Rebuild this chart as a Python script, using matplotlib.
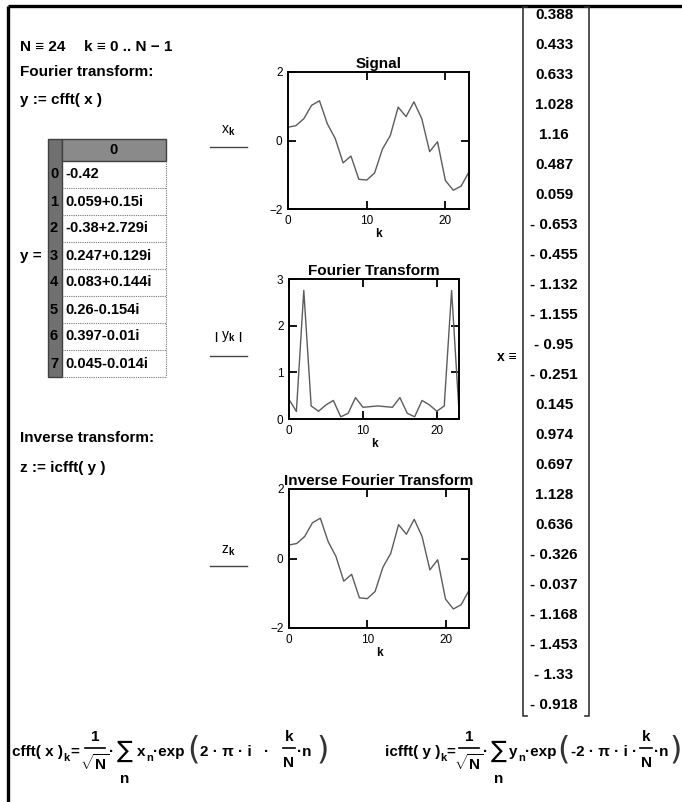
import numpy as np
import matplotlib
matplotlib.use('Agg')
from matplotlib import pyplot as plt
from matplotlib.patches import Rectangle

# worksheet data
N = 24
k = np.arange(N)
x_vals = [0.388, 0.433, 0.633, 1.028, 1.16, 0.487, 0.059, -0.653, -0.455, -1.132,
          -1.155, -0.95, -0.251, 0.145, 0.974, 0.697, 1.128, 0.636, -0.326, -0.037,
          -1.168, -1.453, -1.33, -0.918]
# first 8 entries of y = cfft(x), as shown in the result table
y_rows = ['0', '1', '2', '3', '4', '5', '6', '7']
y_cells = ['-0.42', '0.059+0.15i', '-0.38+2.729i', '0.247+0.129i',
           '0.083+0.144i', '0.26-0.154i', '0.397-0.01i', '0.045-0.014i']
# |y_k|
y_abs = [0.420, 0.161, 2.755, 0.279, 0.166, 0.302, 0.397, 0.047, 0.122, 0.459,
         0.251, 0.265, 0.280, 0.265, 0.251, 0.459, 0.122, 0.047, 0.397, 0.302,
         0.166, 0.279, 2.755, 0.161]
# z = icfft(y)
z_vals = [0.388, 0.433, 0.633, 1.028, 1.16, 0.487, 0.059, -0.653, -0.455, -1.132,
          -1.155, -0.95, -0.251, 0.145, 0.974, 0.697, 1.128, 0.636, -0.326, -0.037,
          -1.168, -1.453, -1.33, -0.918]

W, H = 682, 802
FS = 11
plt.rcParams['font.family'] = ['Liberation Sans', 'DejaVu Sans']
plt.rcParams['mathtext.fontset'] = 'custom'
plt.rcParams['mathtext.rm'] = 'Liberation Sans:bold'
plt.rcParams['mathtext.it'] = 'Liberation Sans:bold'
plt.rcParams['mathtext.bf'] = 'Liberation Sans:bold'
plt.rcParams['mathtext.sf'] = 'Liberation Sans'

fig = plt.figure(figsize=(W/100, H/100), dpi=100)
fig.patch.set_facecolor('white')

# background axes in pixel units (y down)
bg = fig.add_axes([0, 0, 1, 1])
bg.set_xlim(0, W)
bg.set_ylim(H, 0)
bg.axis('off')

# page border (top and left)
bg.plot([8, W], [6, 6], color='black', lw=2.4, solid_capstyle='butt')
bg.plot([8, 8], [6, H], color='black', lw=2.4, solid_capstyle='butt')

def txt(x, y, s, size=FS, weight='bold', **kw):
    kw.setdefault('va', 'center')
    bg.text(x, y, s, fontsize=size, fontweight=weight, **kw)

txt(20, 47, 'N \u2261 24')
txt(84, 47, 'k \u2261 0 .. N \u2212 1')
txt(20, 72, 'Fourier transform:')
txt(20, 100, 'y := cfft( x )')
txt(20, 438, 'Inverse transform:')
txt(20, 468, 'z := icfft( y )')

# result table for y
t_left, t_strip, t_right = 48, 62, 166
t_top, t_head = 139, 161
row_h = 27
t_bot = t_head + row_h * len(y_cells)
bg.add_patch(Rectangle((t_left, t_top), t_strip - t_left, t_bot - t_top,
                       facecolor='#707070', edgecolor='#404040', lw=1))
bg.add_patch(Rectangle((t_strip, t_top), t_right - t_strip, t_head - t_top,
                       facecolor='#8a8a8a', edgecolor='#404040', lw=1))
bg.plot([t_right, t_right], [t_head, t_bot], color='#777777', lw=0.8, ls=(0, (1, 1)))
txt((t_strip + t_right) / 2, (t_top + t_head) / 2, '0', size=10.5, ha='center')
for i, (r, c) in enumerate(zip(y_rows, y_cells)):
    yc = t_head + row_h * (i + 0.5)
    yb = t_head + row_h * (i + 1)
    bg.plot([t_strip, t_right], [yb, yb], color='#777777', lw=0.8, ls=(0, (1, 1)))
    txt(t_left + 2, yc, r, size=10.5)
    txt(t_strip + 3, yc, c, size=10.5)
txt(20, 256, 'y =')

# vector x
v_left, v_right, v_top, v_bot = 523, 589, 7, 716
for xx, d in [(v_left, 4), (v_right, -4)]:
    bg.plot([xx + d, xx, xx, xx + d], [v_top, v_top, v_bot, v_bot], color='#333333', lw=1.2)
v_first, v_last = 15, 705
v_step = (v_last - v_first) / (N - 1)
for i, v in enumerate(x_vals):
    s = f'{v:g}' if v >= 0 else '- ' + f'{-v:g}'
    txt(554, v_first + i * v_step, s, size=FS, ha='center')
txt(497, 357, 'x \u2261', size=10)

def ax_rect(l, t, r, b):
    return [l / W, 1 - b / H, (r - l) / W, (b - t) / H]

def mc_plot(rect, vals, title, ylim, yticks, ylab_y, ylab, line_y):
    ax = fig.add_axes(ax_rect(*rect))
    ax.plot(k, vals, color='#5c5c5c', lw=1)
    ax.set_xlim(0, 23)
    ax.set_ylim(*ylim)
    ax.set_xticks([0, 10, 20])
    ax.set_yticks(yticks)
    ax.tick_params(direction='in', length=6, width=1.3, top=True, right=True,
                   labelsize=8.5, pad=4)
    for sp in ax.spines.values():
        sp.set_linewidth(1.4)
    ax.set_title(title, fontsize=11, fontweight='bold', pad=3)
    ax.set_xlabel('k', fontsize=8.5, fontweight='bold', labelpad=1)
    bg.text(228, ylab_y, ylab, fontsize=10, ha='center', va='center')
    bg.plot([210, 247], [line_y, line_y], color='#444444', lw=1)
    return ax

mc_plot((288, 72, 469, 209), x_vals, 'Signal', (-2, 2), [-2, 0, 2],
        131, r'$\mathsf{x}_{\mathbf{k}}$', 147)
mc_plot((289, 279, 459, 419), y_abs, 'Fourier Transform', (0, 3), [0, 1, 2, 3],
        336, r'$\left|\ \mathsf{y}_{\mathbf{k}}\ \right|$', 356)
mc_plot((289, 489, 469, 628), z_vals, 'Inverse Fourier Transform', (-2, 2), [-2, 0, 2],
        551, r'$\mathsf{z}_{\mathbf{k}}$', 566)

# definitions at the bottom, laid out piece by piece like the worksheet
YB = 752

def frac(xc, top, bot, half):
    txt(xc, 737, top, ha='center')
    bg.plot([xc - half, xc + half], [748, 748], color='black', lw=1.2)
    txt(xc, 763, bot, ha='center')

def paren(x, s):
    bg.text(x, YB - 2, s, fontsize=23, family=['DejaVu Sans'],
            ha='center', va='center', color='#333333')

def definition(x0, name, var, arg, p):
    txt(x0, YB, name)
    txt(p['k'], YB + 6, 'k', size=8)
    txt(p['eq'], YB, '=', ha='center')
    frac(p['frac'], '1', r'$\sqrt{N}$', 10)
    txt(p['frac'] + 17, YB, '\u00b7', ha='center')
    bg.text(p['sum'], YB - 1, '\u2211', fontsize=17, family=['DejaVu Sans'],
            ha='center', va='center')
    txt(p['sum'], YB + 27, 'n', ha='center')
    txt(p['var'], YB, var)
    txt(p['var'] + 9, YB + 6, 'n', size=8)
    txt(p['exp'], YB, '\u00b7exp')
    paren(p['lp'], '(')
    txt(p['lp'] + 7, YB, arg)
    txt(p['dot2'], YB, '\u00b7', ha='center')
    frac(p['kn'], 'k', 'N', 6)
    txt(p['kn'] + 8, YB, '\u00b7n')
    paren(p['rp'], ')')

definition(12, 'cfft( x )', 'x', '2 \u00b7 \u03c0 \u00b7 i',
           dict(k=63, eq=75, frac=95, sum=125, var=137, exp=153,
                lp=193, dot2=267, kn=289, rp=323))
definition(385, 'icfft( y )', 'y', '-2 \u00b7 \u03c0 \u00b7 i',
           dict(k=440, eq=451, frac=469, sum=499, var=509, exp=525,
                lp=564, dot2=635, kn=646, rp=676))

fig.savefig('out.png', dpi=100, facecolor='white')
